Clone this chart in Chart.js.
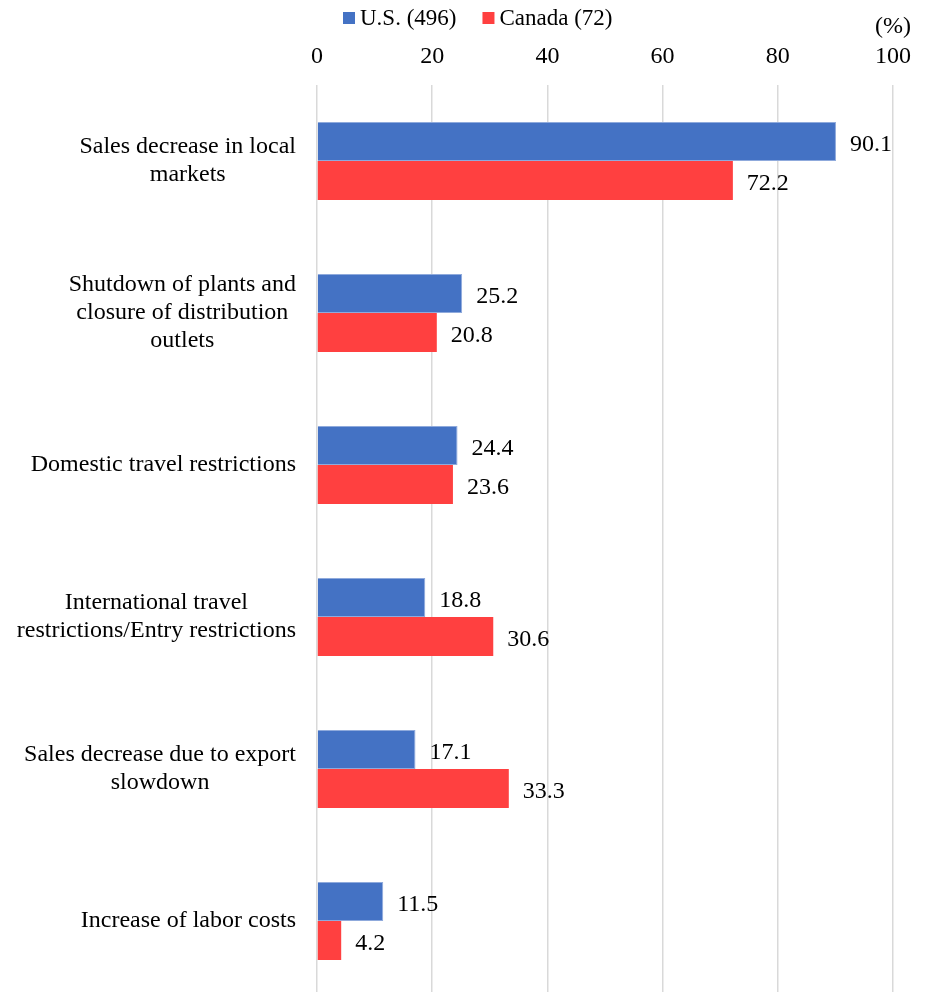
<!DOCTYPE html>
<html>
<head>
<meta charset="utf-8">
<script src="https://cdn.jsdelivr.net/npm/chart.js@4.4.1/dist/chart.umd.min.js"></script>
<style>
  html, body { margin: 0; padding: 0; background: #fff; overflow: hidden; }
  #wrap { width: 928px; height: 997px; }
</style>
</head>
<body>
<div id="wrap"><canvas id="myChart" width="928" height="997"></canvas></div>
<script>
// categorias (lineas del texto del eje)
var categorias = [
    ["Sales decrease in local", "markets"],
    ["Shutdown of plants and", "closure of distribution", "outlets"],
    ["Domestic travel restrictions"],
    ["International travel", "restrictions/Entry restrictions"],
    ["Sales decrease due to export", "slowdown"],
    ["Increase of labor costs"]
];
var serieNombres = ["U.S. (496)", "Canada (72)"];
var valoresUS = [90.1, 25.2, 24.4, 18.8, 17.1, 11.5];
var valoresCanada = [72.2, 20.8, 23.6, 30.6, 33.3, 4.2];
var colores = ["#4472C4", "#FF4040"];
var unidad = "(%)";

var familia = "'Liberation Serif', 'Times New Roman', serif";
var fuente = "24px " + familia;

// Etiquetas del eje Y, valores y leyenda dibujados a mano
var extras = {
    id: 'extras',
    afterDraw: function(chart) {
        var ctx = chart.ctx;
        var yScale = chart.scales.y;
        ctx.save();
        ctx.font = fuente;
        ctx.fillStyle = "#000";
        ctx.textBaseline = "middle";

        // etiquetas de categoria: bloque alineado a la derecha, lineas centradas
        var altoLinea = 28;
        categorias.forEach(function(lineas, i) {
            var yc = yScale.getPixelForValue(i);
            var ancho = 0;
            lineas.forEach(function(l) { ancho = Math.max(ancho, ctx.measureText(l).width); });
            var cx = 296 - ancho / 2;
            ctx.textAlign = "center";
            lineas.forEach(function(l, j) {
                var y = yc + (j - (lineas.length - 1) / 2) * altoLinea;
                ctx.fillText(l, cx, y);
            });
        });

        // valores al final de cada barra
        ctx.textAlign = "left";
        chart.data.datasets.forEach(function(ds, di) {
            var meta = chart.getDatasetMeta(di);
            meta.data.forEach(function(bar, i) {
                ctx.fillText(ds.data[i].toFixed(1), bar.x + 14, bar.y + 3);
            });
        });

        // leyenda
        ctx.font = "23px " + familia;
        var x = 343;
        serieNombres.forEach(function(n, i) {
            ctx.fillStyle = colores[i];
            ctx.fillRect(x, 12, 12, 12);
            ctx.fillStyle = "#000";
            ctx.fillText(n, x + 17, 19);
            x += 17 + ctx.measureText(n).width + 26;
        });

        // unidad
        ctx.font = fuente;
        ctx.textAlign = "right";
        ctx.fillText(unidad, 911, 27);
        ctx.restore();
    }
};

var ctx = document.getElementById('myChart').getContext('2d');
var myChart = new Chart(ctx, {
    type: 'bar',
    data: {
        labels: categorias.map(function(c) { return c.join(" "); }),
        datasets: [{
            label: serieNombres[0],
            data: valoresUS,
            backgroundColor: colores[0],
            borderColor: "#8faadc",
            borderWidth: 1,
            categoryPercentage: 0.513,
            barPercentage: 1
        }, {
            label: serieNombres[1],
            data: valoresCanada,
            backgroundColor: colores[1],
            categoryPercentage: 0.513,
            barPercentage: 1
        }]
    },
    options: {
        indexAxis: 'y',
        responsive: false,
        animation: false,
        layout: { padding: { left: 0, right: 35, top: 0, bottom: 0 } },
        plugins: {
            legend: { display: false },
            tooltip: { enabled: false }
        },
        scales: {
            x: {
                position: 'top',
                min: 0,
                max: 100,
                ticks: {
                    stepSize: 20,
                    color: "#000",
                    font: { family: familia, size: 24 },
                    padding: 14
                },
                grid: { color: "#d9d9d9", lineWidth: 1.5, drawTicks: false },
                border: { display: false },
                afterFit: function(scale) { scale.height = 85; }
            },
            y: {
                ticks: { display: false },
                grid: { display: false },
                border: { display: false },
                afterFit: function(scale) { scale.width = 317; }
            }
        }
    },
    plugins: [extras]
});
</script>
</body>
</html>
